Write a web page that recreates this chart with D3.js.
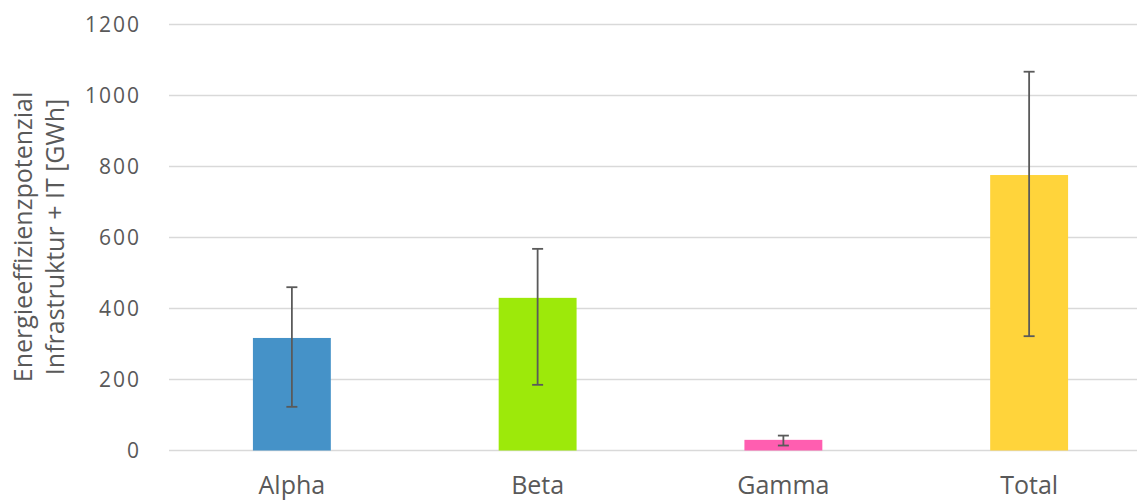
<!DOCTYPE html>
<html>
<head>
<meta charset="utf-8">
<script src="https://cdn.jsdelivr.net/npm/d3@7"></script>
<style>
  body { margin: 0; background: #fff; }
  svg { display: block; }
</style>
</head>
<body>
<div id="chart"></div>
<script>
// chart data
var categories = ["Alpha", "Beta", "Gamma", "Total"];
var values = [317, 430, 30, 776];
var errLow = [123, 185, 14, 322];
var errHigh = [460, 568, 42, 1067];
var colors = ["#4592C8", "#9DE90A", "#FF5EB0", "#FFD43B"];
var yTicks = [0, 200, 400, 600, 800, 1000, 1200];
var yTitle = ["Energieeffizienzpotenzial", "Infrastruktur + IT [GWh]"];

var width = 1137, height = 501;
var margin = {top: 24.5, left: 169, bottom: 50.5};
var plotRight = 1152;

var svg = d3.select("#chart").append("svg")
  .attr("width", width)
  .attr("height", height);

var x = d3.scaleBand()
  .domain(categories)
  .range([margin.left, plotRight])
  .paddingInner(0.683)
  .paddingOuter(0.3415);

var y = d3.scaleLinear()
  .domain([0, 1200])
  .range([height - margin.bottom, margin.top]);

// gridlines
svg.append("g").selectAll("line")
  .data(yTicks)
  .enter().append("line")
  .attr("x1", margin.left)
  .attr("x2", plotRight)
  .attr("y1", function(d) { return y(d); })
  .attr("y2", function(d) { return y(d); })
  .attr("stroke", "#d9d9d9")
  .attr("stroke-width", 1.5);

// y axis labels
var yAxis = d3.axisLeft(y).tickValues(yTicks).tickFormat(d3.format("d"))
  .tickSize(0).tickPadding(28);
var gy = svg.append("g")
  .attr("transform", "translate(" + margin.left + ",0)")
  .call(yAxis);
gy.select(".domain").remove();
gy.selectAll("text")
  .attr("fill", "#595959")
  .style("font-family", "'Open Sans', sans-serif")
  .style("font-size", "21px")
  .style("letter-spacing", "2px");

// bars
svg.append("g").selectAll("rect")
  .data(categories)
  .enter().append("rect")
  .attr("x", function(d) { return x(d); })
  .attr("width", x.bandwidth())
  .attr("y", function(d, i) { return y(values[i]); })
  .attr("height", function(d, i) { return y(0) - y(values[i]); })
  .attr("fill", function(d, i) { return colors[i]; });

// error bars
var err = svg.append("g")
  .attr("stroke", "#5a5a5a")
  .attr("stroke-width", 1.8);
categories.forEach(function(c, i) {
  var cx = x(c) + x.bandwidth() / 2;
  err.append("line")
    .attr("x1", cx).attr("x2", cx)
    .attr("y1", y(errLow[i])).attr("y2", y(errHigh[i]));
  [errLow[i], errHigh[i]].forEach(function(v) {
    err.append("line")
      .attr("x1", cx - 5.5).attr("x2", cx + 5.5)
      .attr("y1", y(v)).attr("y2", y(v));
  });
});

// category labels
var xAxis = d3.axisBottom(x).tickSize(0).tickPadding(0);
var gx = svg.append("g")
  .attr("transform", "translate(0," + y(0) + ")")
  .call(xAxis);
gx.select(".domain").remove();
gx.selectAll("text")
  .attr("dy", null)
  .attr("y", 43.5)
  .attr("fill", "#595959")
  .style("font-family", "'Open Sans', sans-serif")
  .style("font-size", "25px");

// y axis title
var title = svg.append("text")
  .attr("transform", "translate(0,237) rotate(-90)")
  .attr("text-anchor", "middle")
  .attr("fill", "#595959")
  .style("font-family", "'Open Sans', sans-serif")
  .style("font-size", "25px");
title.selectAll("tspan")
  .data(yTitle)
  .enter().append("tspan")
  .attr("x", 0)
  .attr("y", function(d, i) { return 32 + i * 32; })
  .text(function(d) { return d; });
</script>
</body>
</html>
